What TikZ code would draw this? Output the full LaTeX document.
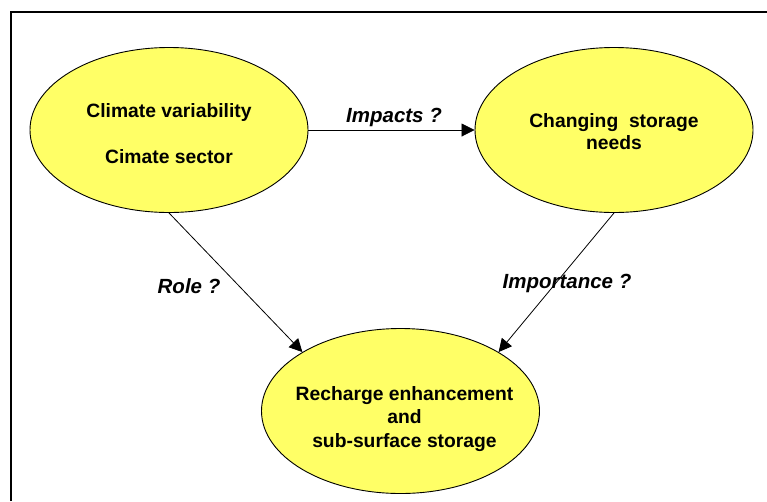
\documentclass[tikz,border=0pt]{standalone}
\usepackage{fontspec}
\setmainfont{Liberation Sans}
\usetikzlibrary{shapes.geometric,arrows.meta}
\definecolor{ellfill}{RGB}{255,255,102}
\begin{document}
\begin{tikzpicture}[x=1pt,y=-1pt,
  ell/.style={ellipse,draw=black,line width=0.9pt,fill=ellfill,minimum width=278pt,minimum height=165pt,inner sep=0pt},
  txt/.style={align=center,font=\fontsize{19.3}{22}\selectfont\bfseries,inner sep=0pt},
  lbl/.style={font=\fontsize{20.5}{22}\selectfont\bfseries\itshape,inner sep=0pt},
  arr/.style={line width=0.8pt,-{Triangle[length=13pt,width=13pt]}}]
\useasboundingbox (0,0) rectangle (767,501);
\fill[white] (0,0) rectangle (767,501);
\draw[line width=2pt] (10.5,501) -- (10.5,11.5) -- (767,11.5);
\node[ell] (e1) at (169,130) {};
\node[ell] (e2) at (614,130) {};
\node[ell] (e3) at (400.5,411) {};
\node[txt] (e1t) at ([yshift=-3.5pt]e1.center) {Climate variability\\[24pt]Cimate sector};
\node[txt] (e2t) at ([yshift=-1.5pt]e2.center) {Changing\ \ storage\\needs};
\node[txt] (e3t) at ([xshift=4pt,yshift=-8pt]e3.center) {Recharge enhancement\\[1.5pt]and\\[1.5pt]sub-surface storage};
\draw[arr] (e1.east) -- (e2.west);
\draw[arr] (e1.south) -- (e3.149);
\draw[arr] (e2.south) -- (e3.31);
\node[lbl] (l1) at (394,117) {Impacts ?};
\node[lbl] (l2) at (189,286) {Role ?};
\node[lbl] (l3) at (567,283) {Importance ?};
\end{tikzpicture}
\end{document}
